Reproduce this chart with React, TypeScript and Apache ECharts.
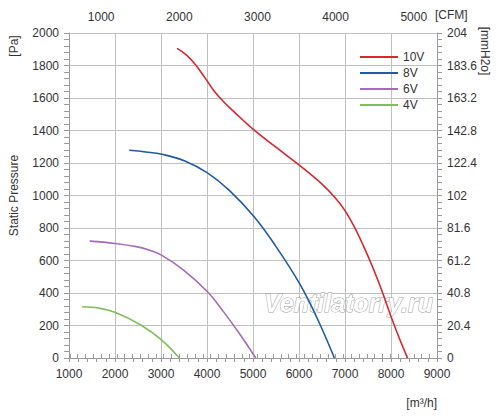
import React, { useEffect, useRef } from "react";
import * as echarts from "echarts";

// Air flow [m³/h] vs static pressure [Pa]
const red10V: [number, number][] = [
  [3350, 1905], [3550, 1865], [3750, 1805], [3950, 1727], [4150, 1645],
  [4350, 1580], [4600, 1512], [5000, 1408], [5500, 1297], [6000, 1188],
  [6500, 1070], [6800, 982], [7000, 907], [7200, 808], [7400, 690],
  [7600, 560], [7800, 415], [8000, 255], [8200, 108], [8360, 0],
];
const blue8V: [number, number][] = [
  [2310, 1278], [2670, 1268], [3020, 1254], [3520, 1213], [4010, 1139],
  [4490, 1030], [5025, 869], [5490, 690], [6010, 459], [6380, 254], [6770, 0],
];
const purple6V: [number, number][] = [
  [1450, 719], [2000, 705], [2490, 684], [2740, 664], [3010, 633], [3490, 541],
  [4010, 408], [4345, 290], [4700, 152], [5060, 0],
];
const green4V: [number, number][] = [
  [1285, 315], [1650, 307], [2000, 281], [2560, 203], [3010, 112], [3400, 0],
];

const seriesNames = ["10V", "8V", "6V", "4V"];
const seriesColors = ["#d7262e", "#1f5aa6", "#a569bd", "#7dbf5a"];

const cfmLabels = [1000, 2000, 3000, 4000, 5000];
const mmH2oLabels = [0, 20.4, 40.8, 61.2, 81.6, 102, 122.4, 142.8, 163.2, 183.6, 204];

const M3H_PER_CFM = 1.699;
const FLOW_MIN = 1000;
const FLOW_MAX = 9000;
const PA_MAX = 2000;

const FONT = "'Liberation Sans', Arial, sans-serif";
const TEXT = "#333333";
const AXIS = "#9a9a9a";
const GRID = "#c0c0c0";

const plain = (v: number) => String(Math.round(v * 10) / 10);

export default function App() {
  const ref = useRef<HTMLDivElement>(null);

  useEffect(() => {
    if (!ref.current) return;
    const chart = echarts.init(ref.current, undefined, { renderer: "svg" });

    const cfmMin = FLOW_MIN / M3H_PER_CFM;
    const cfmMax = FLOW_MAX / M3H_PER_CFM;
    const cfmTicks: number[] = [];
    for (let v = Math.ceil(cfmMin / 100) * 100; v <= cfmMax; v += 100) cfmTicks.push(v);

    const data = [red10V, blue8V, purple6V, green4V];

    chart.setOption({
      animation: false,
      textStyle: { fontFamily: FONT },
      grid: { left: 64, right: 63, top: 33, bottom: 60 },
      legend: {
        orient: "vertical",
        left: 360,
        top: 50,
        padding: 0,
        itemWidth: 38,
        itemHeight: 2,
        itemGap: 2,
        icon: "rect",
        data: seriesNames,
        textStyle: { fontSize: 12, color: TEXT, lineHeight: 14, fontFamily: FONT },
      },
      xAxis: [
        {
          type: "value",
          position: "bottom",
          min: FLOW_MIN,
          max: FLOW_MAX,
          interval: 1000,
          axisLine: { show: true, lineStyle: { color: AXIS, width: 1 } },
          axisTick: { show: true, length: 4, lineStyle: { color: AXIS } },
          minorTick: { show: true, splitNumber: 5, length: 4, lineStyle: { color: AXIS } },
          axisLabel: { color: TEXT, fontSize: 12, margin: 10, fontFamily: FONT, formatter: plain },
          splitLine: { show: true, lineStyle: { color: GRID, width: 1 } },
        },
        {
          type: "value",
          position: "top",
          min: cfmMin,
          max: cfmMax,
          axisLine: { show: true, lineStyle: { color: AXIS, width: 1 } },
          axisTick: { show: true, length: 4, customValues: cfmTicks, lineStyle: { color: AXIS } },
          axisLabel: { color: TEXT, fontSize: 12, margin: 10, customValues: cfmLabels, fontFamily: FONT, formatter: plain },
          splitLine: { show: false },
        },
      ],
      yAxis: [
        {
          type: "value",
          position: "left",
          min: 0,
          max: PA_MAX,
          interval: 200,
          name: "Static Pressure",
          nameLocation: "middle",
          nameGap: 49,
          nameTextStyle: { color: TEXT, fontSize: 12, fontFamily: FONT },
          axisLine: { show: true, lineStyle: { color: AXIS, width: 1 } },
          axisTick: { show: true, length: 5, lineStyle: { color: AXIS } },
          minorTick: { show: true, splitNumber: 5, length: 5, lineStyle: { color: AXIS } },
          axisLabel: { color: TEXT, fontSize: 12, margin: 10, fontFamily: FONT, formatter: plain },
          splitLine: { show: true, lineStyle: { color: GRID, width: 1 } },
        },
        {
          type: "value",
          position: "right",
          min: 0,
          max: 204,
          interval: 20.4,
          axisLine: { show: true, lineStyle: { color: AXIS, width: 1 } },
          axisTick: { show: true, length: 5, lineStyle: { color: AXIS } },
          minorTick: { show: true, splitNumber: 5, length: 5, lineStyle: { color: AXIS } },
          axisLabel: {
            color: TEXT,
            fontSize: 12,
            margin: 10,
            fontFamily: FONT,
            customValues: mmH2oLabels,
            formatter: plain,
          },
          splitLine: { show: false },
        },
      ],
      graphic: [
        {
          type: "text",
          x: 14,
          y: 46,
          rotation: Math.PI / 2,
          style: { text: "[Pa]", fill: TEXT, font: `12px ${FONT}`, textAlign: "center", textVerticalAlign: "middle" },
        },
        {
          type: "text",
          x: 485,
          y: 51,
          rotation: -Math.PI / 2,
          style: { text: "[mmH2o]", fill: TEXT, font: `12px ${FONT}`, textAlign: "center", textVerticalAlign: "middle" },
        },
        {
          type: "text",
          x: 435,
          y: 15,
          style: { text: "[CFM]", fill: TEXT, font: `12px ${FONT}`, textAlign: "left", textVerticalAlign: "middle" },
        },
        {
          type: "text",
          x: 437,
          y: 403,
          style: { text: "[m³/h]", fill: TEXT, font: `12px ${FONT}`, textAlign: "right", textVerticalAlign: "middle" },
        },
        {
          type: "text",
          x: 264,
          y: 315,
          z: 1,
          silent: true,
          style: {
            text: "Ventilatorry.ru",
            fill: "#ffffff",
            stroke: "#9c9c9c",
            lineWidth: 1,
            font: `italic bold 25px ${FONT}`,
            textAlign: "left",
            textVerticalAlign: "bottom",
          },
        },
      ],
      series: data.map((d, i) => ({
        name: seriesNames[i],
        type: "line",
        xAxisIndex: 0,
        yAxisIndex: 0,
        data: d,
        smooth: 0.4,
        showSymbol: false,
        symbol: "none",
        z: 3,
        lineStyle: { color: seriesColors[i], width: 1.6 },
        itemStyle: { color: seriesColors[i] },
      })),
    });

    return () => chart.dispose();
  }, []);

  return <div ref={ref} style={{ position: "absolute", left: 0, top: 0, width: 500, height: 418 }} />;
}
